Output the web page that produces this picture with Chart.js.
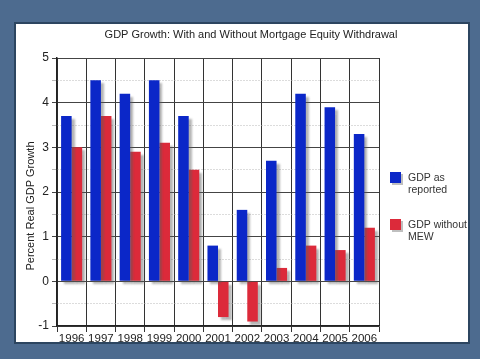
<!DOCTYPE html>
<html>
<head>
<meta charset="utf-8">
<script src="https://cdn.jsdelivr.net/npm/chart.js@4.4.0/dist/chart.umd.min.js"></script>
<style>
  html, body { margin: 0; padding: 0; background: #4d6b8f; }
  #wrap { width: 480px; height: 359px; position: relative; }
</style>
</head>
<body>
<div id="wrap"><canvas id="gdpChart" width="480" height="359"></canvas></div>
<script>
// data
const years = ["1996", "1997", "1998", "1999", "2000", "2001", "2002", "2003", "2004", "2005", "2006"];
const gdpReported = [3.7, 4.5, 4.2, 4.5, 3.7, 0.8, 1.6, 2.7, 4.2, 3.9, 3.3];
const gdpWithoutMew = [3.0, 3.7, 2.9, 3.1, 2.5, -0.8, -0.9, 0.3, 0.8, 0.7, 1.2];
const seriesNames = [["GDP as", "reported"], ["GDP without", "MEW"]];
const chartTitle = "GDP Growth: With and Without Mortgage Equity Withdrawal";
const yTitle = "Percent Real GDP Growth";

const blue = "#0b27c8";
const red = "#dc2a3a";
const fontFam = "'Liberation Sans', Arial, sans-serif";

// frame + white panel + titles + legend
const framePlugin = {
  id: "frame",
  beforeDraw(chart) {
    const ctx = chart.ctx;
    ctx.save();
    ctx.fillStyle = "#4d6b8f";
    ctx.fillRect(0, 0, chart.width, chart.height);
    ctx.fillStyle = "#2c4560";
    ctx.fillRect(14, 22, 456, 322);
    ctx.fillStyle = "#ffffff";
    ctx.fillRect(16, 24, 452, 318);
    ctx.restore();
  },
  afterDraw(chart) {
    const ctx = chart.ctx;
    ctx.save();
    ctx.fillStyle = "#222";
    ctx.font = "11px " + fontFam;
    ctx.textAlign = "center";
    ctx.textBaseline = "middle";
    ctx.fillText(chartTitle, 251, 35);

    // y axis title
    ctx.save();
    ctx.translate(31, 206);
    ctx.rotate(-Math.PI / 2);
    ctx.fillText(yTitle, 0, 0);
    ctx.restore();

    ctx.textAlign = "left";
    ctx.font = "10.5px " + fontFam;
    const tops = [172, 219];
    chart.data.datasets.forEach((ds, i) => {
      const y = tops[i];
      ctx.fillStyle = "rgba(0,0,0,0.25)";
      ctx.fillRect(392, y + 2, 11, 11);
      ctx.fillStyle = ds.backgroundColor;
      ctx.fillRect(390, y, 11, 11);
      ctx.fillStyle = "#333";
      seriesNames[i].forEach((line, j) => {
        ctx.fillText(line, 408, y + 6 + j * 12);
      });
    });
    ctx.restore();
  },
  beforeDatasetsDraw(chart) {
    const ctx = chart.ctx;
    ctx.save();
    ctx.shadowColor = "rgba(90,90,90,0.45)";
    ctx.shadowOffsetX = 3;
    ctx.shadowOffsetY = 3;
    ctx.shadowBlur = 2;
  },
  afterDatasetsDraw(chart) {
    chart.ctx.restore();
  }
};

new Chart(document.getElementById("gdpChart"), {
  type: "bar",
  data: {
    labels: years,
    datasets: [
      { label: seriesNames[0].join(" "), data: gdpReported, backgroundColor: blue },
      { label: seriesNames[1].join(" "), data: gdpWithoutMew, backgroundColor: red }
    ]
  },
  options: {
    responsive: false,
    animation: false,
    layout: { padding: { left: 16, right: 101, top: 58, bottom: 17 } },
    datasets: {
      bar: { categoryPercentage: 0.72, barPercentage: 1.0 }
    },
    plugins: {
      legend: { display: false },
      title: { display: false },
      tooltip: { enabled: false }
    },
    scales: {
      x: {
        grid: {
          color: "#333",
          lineWidth: 1,
          offset: true,
          drawTicks: true,
          tickLength: 6
        },
        border: { color: "#222", width: 1.5 },
        ticks: {
          color: "#222",
          font: { size: 11.5, family: fontFam },
          padding: 0,
          autoSkip: false,
          maxRotation: 0
        },
        afterFit(scale) { scale.height = 16; }
      },
      y: {
        min: -1,
        max: 5,
        ticks: {
          stepSize: 0.5,
          color: "#222",
          padding: 3,
          font: { size: 12, family: fontFam },
          callback: (v) => (Number.isInteger(v) ? v : "")
        },
        grid: {
          color: (c) => (Number.isInteger(c.tick && c.tick.value) ? "#444" : "#b8b8b8"),
          lineWidth: 1,
          tickLength: 5,
          drawTicks: true
        },
        border: {
          color: "#222",
          width: 1.5,
          dash: (c) => (c.tick && !Number.isInteger(c.tick.value) ? [1, 2] : [])
        },
        title: { display: false },
        afterFit(scale) { scale.width = 41; }
      }
    }
  },
  plugins: [framePlugin]
});
</script>
</body>
</html>
